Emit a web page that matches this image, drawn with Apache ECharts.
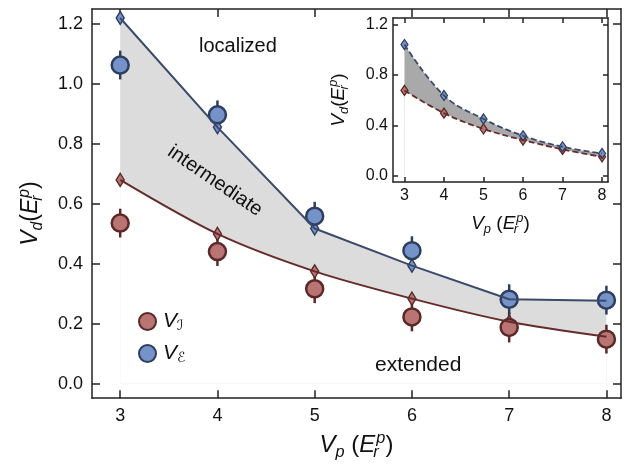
<!DOCTYPE html>
<html>
<head>
<meta charset="utf-8">
<script src="https://cdn.jsdelivr.net/npm/echarts@6/dist/echarts.min.js"></script>
<style>
  html, body { margin: 0; padding: 0; background: #fff; }
  #chart { width: 632px; height: 465px; }
</style>
</head>
<body>
<div id="chart"></div>
<script>
(function(){

	// lattice depth V_p (x)
	var vp = [ 3, 4, 5, 6, 7, 8 ];

	// main panel: theory (diamonds + lines)
	var theoryI = [ 0.680, 0.500, 0.375, 0.284, 0.207, 0.157 ];
	var theoryE = [ 1.220, 0.856, 0.518, 0.394, 0.282, 0.277 ];
	var theoryErr = [ 0.018, 0.018, 0.018, 0.018, 0.018, 0.018 ];

	// main panel: measured (circles)
	var measI = [ 0.536, 0.441, 0.317, 0.223, 0.188, 0.149 ];
	var measE = [ 1.063, 0.897, 0.559, 0.444, 0.282, 0.279 ];
	var measErrI = [ 0.048, 0.048, 0.048, 0.048, 0.050, 0.048 ];
	var measErrE = [ 0.048, 0.048, 0.048, 0.048, 0.050, 0.048 ];

	// inset
	var insetI = [ 0.677, 0.497, 0.372, 0.284, 0.210, 0.151 ];
	var insetE = [ 1.040, 0.637, 0.451, 0.318, 0.231, 0.178 ];
	var insetErr = [ 0.02, 0.02, 0.02, 0.02, 0.02, 0.02 ];

	// ticks
	var xTicks = [ 3, 4, 5, 6, 7, 8 ];
	var yTicks = [ 0, 0.2, 0.4, 0.6, 0.8, 1.0, 1.2 ];
	var insetYTicks = [ 0, 0.4, 0.8, 1.2 ];

	var RED_FILL = "#b97474", RED_EDGE = "#5c2828", RED_LINE = "#662c2c";
	var BLUE_FILL = "#7592c9", BLUE_EDGE = "#2e3e5e", BLUE_LINE = "#3b4a6b";
	var AXIS = "#222";
	var FONT = "Liberation Sans";

	var pairs = function( ys ){
		var out = [], i = 0;
		for(;i<vp.length;++i) out.push( [ vp[i], ys[i] ] );
		return out;
	};
	var triples = function( ys, es ){
		var out = [], i = 0;
		for(;i<vp.length;++i) out.push( [ vp[i], ys[i], es[i] ] );
		return out;
	};

	var errRender = function( w ){
		return function( params, api ){
			var x = api.value(0), y = api.value(1), e = api.value(2);
			var p1 = api.coord( [ x, y + e ] ), p2 = api.coord( [ x, y - e ] );
			return {
				type : "line",
				shape : { x1 : p1[0], y1 : p1[1], x2 : p2[0], y2 : p2[1] },
				style : { stroke : api.visual( "color" ), lineWidth : w }
			};
		};
	};

	var nameRich = function( size ){
		return {
			i : { fontFamily : FONT, fontStyle : "italic", fontSize : size, color : "#111" },
			n : { fontFamily : FONT, fontSize : size, color : "#111" },
			sub : { fontFamily : FONT, fontStyle : "italic", fontSize : size * 0.68, color : "#111", padding : [ size * 0.55, 0, 0, 0 ] },
			subz : { fontFamily : FONT, fontStyle : "italic", fontSize : size * 0.68, color : "#111", padding : [ size * 0.55, 0, 0, 0 ], width : 1 },
			sup : { fontFamily : FONT, fontStyle : "italic", fontSize : size * 0.68, color : "#111", padding : [ 0, 0, size * 0.6, 0 ] }
		};
	};

	var xAxisBase = function( grid, pos, show, tickLen, fs, margin ){
		return {
			type : "value", gridIndex : grid, position : pos,
			min : 2.71, max : 8.15,
			axisLine : { show : true, onZero : false, lineStyle : { color : AXIS, width : 1.5 } },
			axisTick : { show : true, inside : true, length : tickLen, customValues : xTicks, lineStyle : { color : AXIS, width : 1.5 } },
			axisLabel : { show : show, customValues : xTicks, fontFamily : FONT, fontSize : fs, color : "#111", margin : margin },
			splitLine : { show : false }
		};
	};
	var yAxisBase = function( grid, pos, show, ticks, tickLen, fs, margin ){
		return {
			type : "value", gridIndex : grid, position : pos,
			min : -0.048, max : 1.25,
			axisLine : { show : true, onZero : false, lineStyle : { color : AXIS, width : 1.5 } },
			axisTick : { show : true, inside : true, length : tickLen, customValues : ticks, lineStyle : { color : AXIS, width : 1.5 } },
			axisLabel : { show : show, customValues : ticks, fontFamily : FONT, fontSize : fs, color : "#111", margin : margin,
				formatter : function( v ){ return v.toFixed(1); } },
			splitLine : { show : false }
		};
	};

	var xMain = xAxisBase( 0, "bottom", true, 8, 18, 9 );
	xMain.name = "{i|V}{sub|p}{n| (}{i|E}{subz|r}{sup|p}{n|)}";
	xMain.nameLocation = "middle";
	xMain.nameGap = 32;
	xMain.nameTextStyle = { rich : nameRich( 24 ) };

	var yMain = yAxisBase( 0, "left", true, yTicks, 8, 18, 9 );
	yMain.name = "{i|V}{sub|d}{n|(}{i|E}{subz|r}{sup|p}{n|)}";
	yMain.nameLocation = "middle";
	yMain.nameGap = 46;
	yMain.nameTextStyle = { rich : nameRich( 23 ), padding : [ 0, 20, 0, 0 ] };

	var xInset = xAxisBase( 1, "bottom", true, 5, 16, 6 );
	xInset.name = "{i|V}{sub|p}{n| (}{i|E}{subz|r}{sup|p}{n|)}";
	xInset.nameLocation = "middle";
	xInset.nameGap = 30;
	xInset.nameTextStyle = { rich : nameRich( 19 ) };

	var yInset = yAxisBase( 1, "left", true, insetYTicks, 5, 16, 5 );
	yInset.name = "{i|V}{sub|d}{n|(}{i|E}{subz|r}{sup|p}{n|)}";
	yInset.nameLocation = "middle";
	yInset.nameGap = 42;
	yInset.nameTextStyle = { rich : nameRich( 19 ) };

	var myChart = echarts.init( document.getElementById( "chart" ), null, { renderer : "canvas" } );

	var option = {
		animation : false,
		backgroundColor : "#fff",
		grid : [
			{ left : 92, right : 11, top : 9, bottom : 63 },
			{ left : 393, right : 24, top : 18, bottom : 283, show : true, backgroundColor : "#fff", borderWidth : 0 }
		],
		xAxis : [ xMain, xAxisBase( 0, "top", false, 8, 18, 9 ), xInset, xAxisBase( 1, "top", false, 5, 16, 6 ) ],
		yAxis : [ yMain, yAxisBase( 0, "right", false, yTicks, 8, 18, 9 ), yInset, yAxisBase( 1, "right", false, insetYTicks, 5, 16, 5 ) ],
		legend : {
			z : 10,
			orient : "vertical", left : 133, top : 306, itemWidth : 17, itemHeight : 17, itemGap : 10,
			data : [ "VI", "VE" ],
			formatter : function( n ){ return n === "VI" ? "{v|V}{s|ℐ}" : "{v|V}{s|ℰ}"; },
			textStyle : {
				padding : [ 0, 0, 0, 2 ],
				rich : {
					v : { fontFamily : FONT, fontStyle : "italic", fontSize : 21, color : "#111" },
					s : { fontFamily : "DejaVu Sans", fontStyle : "italic", fontSize : 14, color : "#111", padding : [ 9, 0, 0, 0 ] }
				}
			}
		},
		graphic : [
			{ type : "text", z : 100, left : 199, top : 36, style : { text : "localized", font : "20px " + FONT, fill : "#111" } },
			{ type : "text", z : 100, x : 215, y : 181, rotation : -0.6, style : { text : "intermediate", font : "20px " + FONT, fill : "#111", align : "center", verticalAlign : "middle" } },
			{ type : "text", z : 100, left : 375, top : 355, style : { text : "extended", font : "21px " + FONT, fill : "#111" } }
		],
		series : [
			// main band: grey under the upper curve, then white under the lower curve
			{ type : "line", xAxisIndex : 0, yAxisIndex : 0, smooth : false, symbol : "none", z : 1, silent : true,
				lineStyle : { opacity : 0 }, areaStyle : { color : "#dcdcdc", opacity : 1, origin : 0 }, data : pairs( theoryE ) },
			{ type : "line", xAxisIndex : 0, yAxisIndex : 0, smooth : 0.3, symbol : "none", z : 1, silent : true,
				lineStyle : { opacity : 0 }, areaStyle : { color : "#ffffff", opacity : 1, origin : 0 }, data : pairs( theoryI ) },
			// theory lines
			{ type : "line", xAxisIndex : 0, yAxisIndex : 0, smooth : 0.3, symbol : "none",
				lineStyle : { color : RED_LINE, width : 2 }, data : pairs( theoryI ) },
			{ type : "line", xAxisIndex : 0, yAxisIndex : 0, smooth : false, symbol : "none",
				lineStyle : { color : BLUE_LINE, width : 2 }, data : pairs( theoryE ) },
			// theory diamonds with small bars
			{ type : "custom", xAxisIndex : 0, yAxisIndex : 0, renderItem : errRender( 1.5 ), itemStyle : { color : RED_EDGE },
				encode : { x : 0, y : 1 }, data : triples( theoryI, theoryErr ) },
			{ type : "custom", xAxisIndex : 0, yAxisIndex : 0, renderItem : errRender( 1.5 ), itemStyle : { color : BLUE_EDGE },
				encode : { x : 0, y : 1 }, data : triples( theoryE, theoryErr ) },
			{ type : "scatter", xAxisIndex : 0, yAxisIndex : 0, symbol : "diamond", symbolSize : [ 8, 13 ],
				itemStyle : { color : RED_FILL, borderColor : RED_EDGE, borderWidth : 1.5, opacity : 1 }, data : pairs( theoryI ) },
			{ type : "scatter", xAxisIndex : 0, yAxisIndex : 0, symbol : "diamond", symbolSize : [ 8, 13 ],
				itemStyle : { color : BLUE_FILL, borderColor : BLUE_EDGE, borderWidth : 1.5, opacity : 1 }, data : pairs( theoryE ) },
			// measured error bars + circles
			{ type : "custom", xAxisIndex : 0, yAxisIndex : 0, renderItem : errRender( 2.5 ), itemStyle : { color : RED_EDGE },
				encode : { x : 0, y : 1 }, data : triples( measI, measErrI ) },
			{ type : "custom", xAxisIndex : 0, yAxisIndex : 0, renderItem : errRender( 2.5 ), itemStyle : { color : BLUE_EDGE },
				encode : { x : 0, y : 1 }, data : triples( measE, measErrE ) },
			{ name : "VI", type : "scatter", xAxisIndex : 0, yAxisIndex : 0, symbol : "circle", symbolSize : 17,
				itemStyle : { color : RED_FILL, borderColor : RED_EDGE, borderWidth : 2.5, opacity : 1 }, data : pairs( measI ) },
			{ name : "VE", type : "scatter", xAxisIndex : 0, yAxisIndex : 0, symbol : "circle", symbolSize : 17,
				itemStyle : { color : BLUE_FILL, borderColor : BLUE_EDGE, borderWidth : 2.5, opacity : 1 }, data : pairs( measE ) },

			// inset band
			{ type : "line", xAxisIndex : 2, yAxisIndex : 2, smooth : 0.4, symbol : "none", z : 1, silent : true,
				lineStyle : { opacity : 0 }, areaStyle : { color : "#a9a9a9", opacity : 1, origin : 0 }, data : pairs( insetE ) },
			{ type : "line", xAxisIndex : 2, yAxisIndex : 2, smooth : 0.4, symbol : "none", z : 1, silent : true,
				lineStyle : { opacity : 0 }, areaStyle : { color : "#ffffff", opacity : 1, origin : 0 }, data : pairs( insetI ) },
			{ type : "line", xAxisIndex : 2, yAxisIndex : 2, smooth : 0.4, symbol : "none",
				lineStyle : { color : RED_LINE, width : 1.8, type : [ 6, 3 ] }, data : pairs( insetI ) },
			{ type : "line", xAxisIndex : 2, yAxisIndex : 2, smooth : 0.4, symbol : "none",
				lineStyle : { color : BLUE_LINE, width : 1.8, type : [ 6, 3 ] }, data : pairs( insetE ) },
			{ type : "custom", xAxisIndex : 2, yAxisIndex : 2, renderItem : errRender( 1.3 ), itemStyle : { color : RED_EDGE },
				encode : { x : 0, y : 1 }, data : triples( insetI, insetErr ) },
			{ type : "custom", xAxisIndex : 2, yAxisIndex : 2, renderItem : errRender( 1.3 ), itemStyle : { color : BLUE_EDGE },
				encode : { x : 0, y : 1 }, data : triples( insetE, insetErr ) },
			{ type : "scatter", xAxisIndex : 2, yAxisIndex : 2, symbol : "diamond", symbolSize : [ 7, 10 ],
				itemStyle : { color : RED_FILL, borderColor : RED_EDGE, borderWidth : 1.3, opacity : 1 }, data : pairs( insetI ) },
			{ type : "scatter", xAxisIndex : 2, yAxisIndex : 2, symbol : "diamond", symbolSize : [ 7, 10 ],
				itemStyle : { color : BLUE_FILL, borderColor : BLUE_EDGE, borderWidth : 1.3, opacity : 1 }, data : pairs( insetE ) }
		]
	};

	myChart.setOption( option, true );

	window.addEventListener( "resize", function(){ myChart.resize(); } );
})();
</script>
</body>
</html>
